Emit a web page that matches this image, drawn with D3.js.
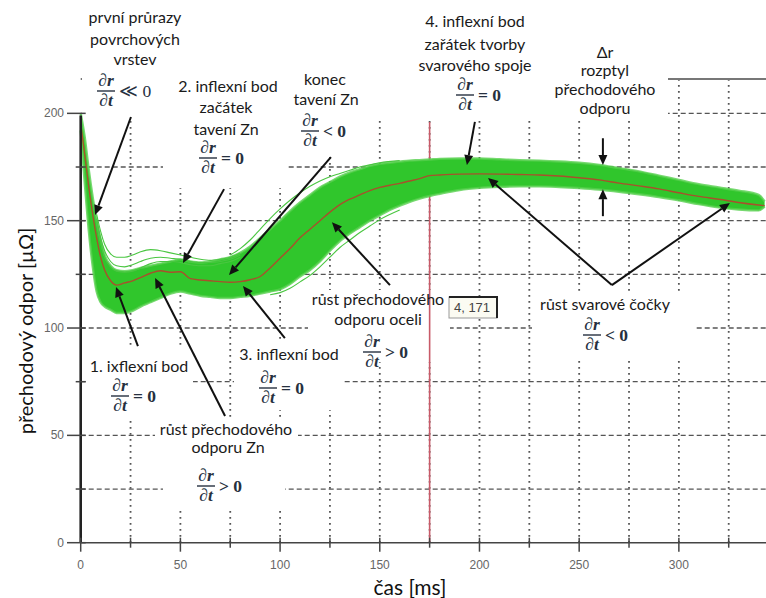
<!DOCTYPE html>
<html><head><meta charset="utf-8">
<script src="https://cdn.jsdelivr.net/npm/d3@7"></script>
<style>
body{margin:0;background:#fff}
svg{display:block}
.ann{font-family:Lato,"Open Sans",sans-serif;font-size:16px;fill:#1a1a1a}
.math{font-family:"Liberation Serif","DejaVu Serif",serif;font-weight:bold;font-style:italic;font-size:17.5px;fill:#263040}
.rel{font-family:"Liberation Serif","DejaVu Serif",serif;font-weight:bold;font-size:17.5px;fill:#263040}
.tick{font-family:"Liberation Sans",Arial,sans-serif;font-size:12px;fill:#666}
.title{font-family:Lato,"Open Sans",sans-serif;fill:#111}
</style>
</head><body>
<svg id="chart" width="766" height="598"></svg>
<script>
// ---------- data ----------
const timeMs = [0,2,4,6,8,10,12,15,18,22,26,30,35,40,45,50,55,60,65,70,75,80,85,90,95,100,105,110,115,120,125,130,135,140,145,150,155,160,165,170,175,180,190,200,210,220,230,240,250,260,270,280,290,300,310,320,330,340,343];
const meanR = [195,181,166,153,142,133,127,122,120,121,122,123.5,125.5,126.7,126,126.2,123,122.4,122,121.6,121.3,121.6,122.5,124,128,132.5,137,142,146,150,154,157.5,160,162,164,165.5,166.5,167.4,168.5,169.6,171,171.3,171.7,171.8,171.7,171.5,171.3,170.8,170,169,167.5,166.2,164.8,163,161.3,160,158.5,157.3,157];
const lowerR = [192,168,146,129,117,112,110,108.5,107,107,108,110,112,114,116,117,116,115,114.5,114,114,114.5,115,116,117,118,120.5,124,127,131,136,140.5,144,147,150,152.5,155,157,158.8,160.3,161.5,162.5,164.3,165.3,165.8,166,166,165.7,165.2,164.5,163.5,162.3,161,159.5,157.7,156.2,155.2,154.8,156.5];
const upperR = [200,189,174,161,150,141,134,129,127,126.5,127,128,129,130,131,132,131,130.5,131,132,133,135,138,142,146,150,154.5,158.5,162,165.5,168,170.5,172.5,174,175.5,176.5,177,177.5,178,178.2,178.5,178.8,179,179,178.6,178.2,178,177.6,177,176,174.5,173,171,169,167,165.5,164,162,159];
// individual curves standing out of the bundle
const earlyTimes = [8,10,12,15,18,22,26,30,35,40,45,50,55,60,65,70,75,80];
const curveA = [153,145,139,134.5,133,133,134,135.5,136.5,136,135,134,133,132,131.5,132,133,135];
const curveB = [151,142,136,131,129,128.5,129.5,131,132.5,133,132.5,132,131,130.5,130.5,131,132,134];
const curveC = [150,140,133,128.5,126.5,126,126.5,128,130,131,131,130.5,129.5,129,129,130,131,133];
const midTimes = [75,80,85,90,95,100,105,110,115,120,125,130,135,140,145,150,160];
const curveD = [134,137,141,146,151,155.5,159.5,163,166,168.5,170.5,172,173.5,175,176,177,178];
const lowTimes = [95,100,105,110,115,120,125,130,135,140,145,150,160];
const curveE = [115.5,116.5,118.5,121.5,124.5,128.5,133,137.5,141,144.5,147.5,150.5,155];
// axes
const xTicks = [0,50,100,150,200,250,300];
const xMinor = [25,75,125,175,225,275,325];
const yTicks = [0,50,100,150,200];
const yMinor = [25,75,125,175];
const gridX = [25,50,75,100,125,150,175,200,225,250,275,300,325];
const gridY = [25,50,75,100,125,150,175,200];
const markerT = 175;
const markerLabel = [4, 171];

// ---------- scales ----------
const svg = d3.select("#chart");
const x = d3.scaleLinear().domain([0,343.7]).range([80.7,766]);
const y = d3.scaleLinear().domain([0,216]).range([542.7,79]);

// ---------- grid ----------
const grid = svg.append("g");
grid.selectAll(".gv").data(gridX).join("line")
  .attr("x1",d=>x(d)).attr("x2",d=>x(d)).attr("y1",y(0)).attr("y2",y(216))
  .attr("stroke","#555").attr("stroke-width",1.8).attr("stroke-dasharray","1.6 4.4");
grid.selectAll(".gh").data(gridY).join("line")
  .attr("x1",x(0)).attr("x2",x(343.7)).attr("y1",d=>y(d)).attr("y2",d=>y(d))
  .attr("stroke","#555").attr("stroke-width",1.3).attr("stroke-dasharray","5 3");
svg.append("line").attr("x1",x(0)).attr("x2",x(343.7)).attr("y1",y(216)).attr("y2",y(216))
  .attr("stroke","#777").attr("stroke-width",2);

// ---------- white label backgrounds (annotations pasted over the plot) ----------
const boxes = [[82,0,586,118],[163,118,124,70],[288,118,77,38],[88,348,105,70],[234,340,108,70],
  [155,420,143,38],[163,458,122,52],[308,290,142,72],[532,292,163,66]];
svg.append("g").selectAll("rect").data(boxes).join("rect")
  .attr("x",d=>d[0]).attr("y",d=>d[1]).attr("width",d=>d[2]).attr("height",d=>d[3]).attr("fill","#fff");

// ---------- marker line ----------
svg.append("line").attr("x1",x(markerT)).attr("x2",x(markerT)).attr("y1",y(0)).attr("y2",y(196))
  .attr("stroke","#c85a68").attr("stroke-width",1.6);

// ---------- curves ----------
const band = timeMs.map((t,i)=>({t,lo:lowerR[i],hi:upperR[i],m:meanR[i]}));
svg.append("path").datum(band)
  .attr("d",d3.area().x(d=>x(d.t)).y0(d=>y(d.lo)).y1(d=>y(d.hi)).curve(d3.curveMonotoneX))
  .attr("fill","#30c62c");
const edgeLine = key => d3.line().x(d=>x(d.t)).y(d=>y(d[key])).curve(d3.curveMonotoneX);
["lo","hi"].forEach(k=>svg.append("path").datum(band).attr("d",edgeLine(k))
  .attr("fill","none").attr("stroke","#55cf4c").attr("stroke-width",2.4).attr("opacity",0.8));
const singles = [[earlyTimes,curveA],[earlyTimes,curveB],[earlyTimes,curveC],[midTimes,curveD],[lowTimes,curveE]];
const ln = d3.line().x(d=>x(d[0])).y(d=>y(d[1])).curve(d3.curveMonotoneX);
singles.forEach(([ts,vs])=>svg.append("path").datum(ts.map((t,i)=>[t,vs[i]]))
  .attr("d",ln).attr("fill","none").attr("stroke","#4ac641").attr("stroke-width",1.1));
svg.append("path").datum(band).attr("d",edgeLine("m"))
  .attr("fill","none").attr("stroke","#a9502c").attr("stroke-width",1.4);

// ---------- axes ----------
const ax = svg.append("g");
ax.append("line").attr("x1",x(0)).attr("x2",x(343.7)).attr("y1",y(0)).attr("y2",y(0)).attr("stroke","#444").attr("stroke-width",1.6);
ax.append("line").attr("x1",x(0)).attr("x2",x(0)).attr("y1",y(0)).attr("y2",y(199)).attr("stroke","#222").attr("stroke-width",2.6);
ax.selectAll(".xt").data(xTicks).join("line").attr("x1",d=>x(d)).attr("x2",d=>x(d)).attr("y1",y(0)-5).attr("y2",y(0)+9).attr("stroke","#444").attr("stroke-width",1.5);
ax.selectAll(".xm").data(xMinor).join("line").attr("x1",d=>x(d)).attr("x2",d=>x(d)).attr("y1",y(0)-5).attr("y2",y(0)+5).attr("stroke","#444").attr("stroke-width",1.5);
ax.selectAll(".yt").data(yTicks).join("line").attr("x1",67).attr("x2",x(0)+5).attr("y1",d=>y(d)).attr("y2",d=>y(d)).attr("stroke","#444").attr("stroke-width",1.5);
ax.selectAll(".ym").data(yMinor).join("line").attr("x1",x(0)-5).attr("x2",x(0)+5).attr("y1",d=>y(d)).attr("y2",d=>y(d)).attr("stroke","#444").attr("stroke-width",1.5);
ax.selectAll(".xl").data(xTicks).join("text").attr("class","tick").attr("x",d=>x(d)).attr("y",y(0)+26).attr("text-anchor","middle").text(d=>d);
ax.selectAll(".yl").data(yTicks).join("text").attr("class","tick").attr("x",64).attr("y",d=>y(d)+4).attr("text-anchor","end").text(d=>d);
svg.append("text").attr("class","title").attr("x",410).attr("y",595).attr("text-anchor","middle").style("font-size","21px").text("čas [ms]");
svg.append("text").attr("class","title").attr("transform","translate(33,331) rotate(-90)").attr("text-anchor","middle").style("font-size","20px").text("přechodový odpor [µΩ]");

// ---------- annotations ----------
const ann = svg.append("g");
const texts = [
  ["první průrazy",135,23],["povrchových",135,45],["vrstev",135,65],
  ["2. inflexní bod",228,92],["začátek",226,113],["tavení Zn",226,135],
  ["konec",325,85],["tavení Zn",326,105],
  ["4. inflexní bod",475,27],["zařátek tvorby",475,50],["svarového spoje",475,71],
  ["Δr",605,58],["rozptyl",605,76],["přechodového",605,95],["odporu",605,114],
  ["1. ixflexní bod",139,372],["3. inflexní bod",289,360],
  ["růst přechodového",226,435],["odporu Zn",228,453],
  ["růst přechodového",378,305],["odporu oceli",378,325],
  ["růst svarové čočky",605,310]
];
ann.selectAll("text.a").data(texts).join("text").attr("class","ann")
  .attr("x",d=>d[1]).attr("y",d=>d[2]).attr("text-anchor","middle").text(d=>d[0]);
const fracs = [[106,91,"≪ 0"],[208,158,"= 0"],[310,131,"< 0"],[465,95,"= 0"],[120,396,"= 0"],
  [268,388,"= 0"],[206,486,"> 0"],[372,352,"> 0"],[592,335,"< 0"]];
fracs.forEach(([cx,by,rel])=>{
  ann.append("text").attr("class","math").attr("x",cx).attr("y",by-5).attr("text-anchor","middle").text("∂r");
  ann.append("line").attr("x1",cx-9).attr("x2",cx+9).attr("y1",by).attr("y2",by).attr("stroke","#263040").attr("stroke-width",1.4);
  ann.append("text").attr("class","math").attr("x",cx).attr("y",by+15).attr("text-anchor","middle").text("∂t");
  ann.append("text").attr("class","rel").attr("x",cx+13).attr("y",by+6)
    .style("font-weight",rel[0]==="≪"?"normal":"bold").text(rel);
});
// arrows: [from t, from r, to t, to r]
const arrows = [[25.2,198.3,7.2,152.6],[71.9,164.7,51.3,130.3],[125.5,179.6,74.4,124.7],
  [28.7,91.6,17.7,119.1],[72.4,59,37.3,123.3],[102.4,95.3,81.4,119.6],[155.1,120,126,149.3],
  [197.7,196,193.7,175.9],[266.4,120,204.3,169.9],[266.4,120,325.6,158.2],
  [261.9,188.4,261.9,175.9],[261.9,152.1,261.9,164.7]];
arrows.forEach(([t1,r1,t2,r2])=>{
  const X1=x(t1),Y1=y(r1),X2=x(t2),Y2=y(r2);
  const a=Math.atan2(Y2-Y1,X2-X1), L=10, W=4.5;
  const bx=X2-L*Math.cos(a), by=Y2-L*Math.sin(a);
  ann.append("line").attr("x1",X1).attr("y1",Y1).attr("x2",bx).attr("y2",by).attr("stroke","#111").attr("stroke-width",2);
  ann.append("path").attr("d",`M${X2},${Y2}L${bx+W*Math.sin(a)},${by-W*Math.cos(a)}L${bx-W*Math.sin(a)},${by+W*Math.cos(a)}Z`).attr("fill","#111");
});
// value label box
const lb = ann.append("g");
lb.append("rect").attr("x",449).attr("y",297).attr("width",48).attr("height",21).attr("fill","#fbfbf2").attr("stroke","#999");
lb.append("path").attr("d","M449,297H497V318").attr("fill","none").attr("stroke","#222").attr("stroke-width",2);
lb.append("text").attr("x",472).attr("y",312).attr("text-anchor","middle")
  .style("font-family","'Liberation Sans',Arial,sans-serif").style("font-size","13px").style("fill","#444")
  .text(markerLabel.join(", "));
</script>
</body></html>
